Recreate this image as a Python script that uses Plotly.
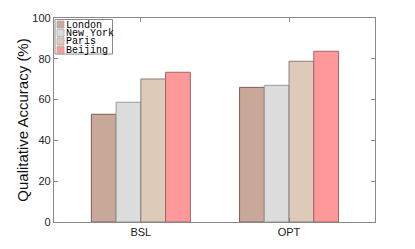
import plotly.graph_objects as go

categories = ["BSL", "OPT"]
cities = ["London", "New York", "Paris", "Beijing"]
values = {
    "London": [52.8, 66.0],
    "New York": [58.7, 67.0],
    "Paris": [70.1, 78.8],
    "Beijing": [73.4, 83.7],
}
colors = {"London": "#C9A899", "New York": "#DCDCDC", "Paris": "#DDCAB9", "Beijing": "#FF9898"}
outlines = {"London": "#7A625A", "New York": "#9A9A9A", "Paris": "#8A7E76", "Beijing": "#A06666"}
y_ticks = [0, 20, 40, 60, 80, 100]

fig = go.Figure()
for c in cities:
    fig.add_trace(go.Bar(x=categories, y=values[c], name=c,
                         marker=dict(color=colors[c], line=dict(color=outlines[c], width=1)),
                         showlegend=False))

# compact legend drawn manually (paper coords)
W, H = 321.0, 203.7
def px(x): return (x - 54) / W
def py(y): return (221.7 - y) / H
shapes = [dict(type="rect", xref="paper", yref="paper", x0=px(55), x1=px(112.5), y0=py(54), y1=py(19.5),
               line=dict(color="#888888", width=1), fillcolor="white", layer="above")]
annotations = []
for i, c in enumerate(cities):
    yc = 24.5 + i * 8.4
    shapes.append(dict(type="rect", xref="paper", yref="paper", x0=px(57), x1=px(64), y0=py(yc + 3.5), y1=py(yc - 3.5),
                       line=dict(color="#AAAAAA", width=0.8), fillcolor=colors[c], layer="above"))
    annotations.append(dict(xref="paper", yref="paper", x=px(64.5), y=py(yc + 0.5), text=c, showarrow=False,
                            xanchor="left", yanchor="middle", borderpad=0,
                            font=dict(family="Liberation Mono", size=10, color="black")))

fig.update_layout(
    width=415, height=249,
    margin=dict(l=46, r=48, t=10, b=35),
    paper_bgcolor="white", plot_bgcolor="white",
    barmode="group", bargap=0.332, bargroupgap=0,
    font=dict(family="Liberation Sans", size=11, color="#222222"),
    shapes=shapes, annotations=annotations,
    xaxis=dict(range=[-0.586, 1.58], showline=True, linecolor="#888888", linewidth=1.3, mirror="ticks",
               ticks="inside", ticklen=4, tickcolor="#888888", showgrid=False, zeroline=False, automargin=False,
               tickfont=dict(size=11, color="#222222")),
    yaxis=dict(range=[0, 100], tickvals=y_ticks, showline=True, linecolor="#888888", linewidth=1.3, mirror="ticks",
               ticks="inside", ticklen=4, tickcolor="#888888", showgrid=False, zeroline=False, automargin=False,
               title=dict(text="Qualitative Accuracy (%)", font=dict(size=15, color="#111111"), standoff=0),
               tickfont=dict(size=11, color="#222222")),
)
fig.write_html("out.html")
